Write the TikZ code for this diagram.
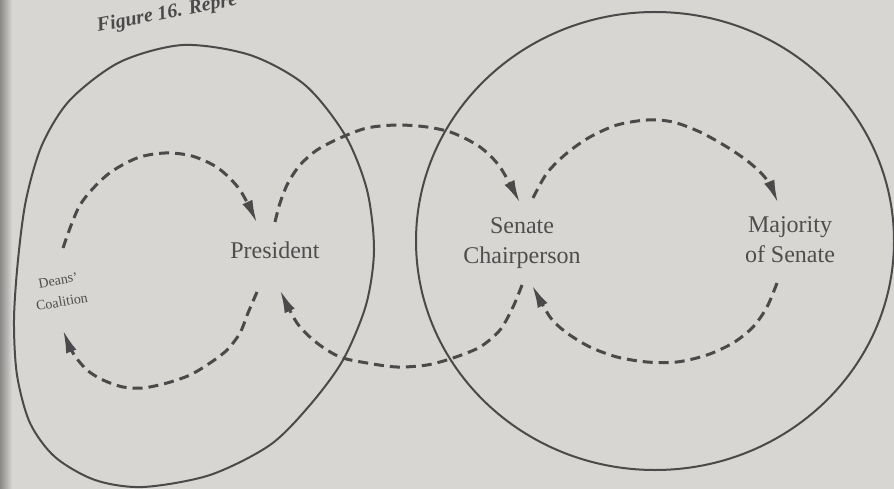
\documentclass[tikz,border=0pt]{standalone}
\usepackage{fontspec}
\setmainfont{Liberation Serif}
\usetikzlibrary{arrows.meta}
\definecolor{paper}{HTML}{D8D6D3}
\definecolor{ink}{HTML}{4A4A4A}
\definecolor{txt}{HTML}{4E4E4E}
\begin{document}
\begin{tikzpicture}[x=1pt,y=-1pt,
  outline/.style={draw=ink, line width=2pt},
  loopline/.style={draw=ink, line width=3pt, dash pattern=on 10pt off 6pt,
    -{Latex[length=23pt,width=11pt]}},
  lbl/.style={text=txt, font=\fontsize{24}{30}\selectfont, align=center, inner sep=0pt},
  smalllbl/.style={text=txt, font=\fontsize{14}{22}\selectfont, align=center, inner sep=0pt},
  caption/.style={text=ink, font=\bfseries\itshape\fontsize{20}{24}\selectfont, inner sep=0pt}]
\clip (0,0) rectangle (894,489);
\fill[paper] (0,0) rectangle (894,489);
\shade[left color=ink!55!paper, right color=paper] (0,0) rectangle (12,489);

% caption (cut at the top edge)
\node[caption, anchor=base west, rotate=11] (fig) at (98,32) {Figure 16. Repre};

% left boundary (blob)
\draw[outline] plot[smooth cycle, tension=0.5] coordinates {
  (183,45) (250,55) (305,85) (345,135) (367,190) (374,250) (366,305)
  (343,360) (310,405) (270,445) (210,475) (143,487) (95,480) (55,457)
  (30,423) (17,375) (14,320) (18,260) (26,200) (42,145) (70,100) (120,62)};

% right boundary (circle)
\draw[outline] (655,241) ellipse [x radius=239, y radius=229];

% labels
\node[lbl] (pres) at (275,250) {President};
\node[lbl] (chair) at (522,243) {Senate\\Chairperson};
\node[lbl] (maj) at (790,240) {Majority\\of Senate};
\node[smalllbl, rotate=10] (deans) at (60,291) {Deans'\\Coalition};

% Deans' coalition loop
\coordinate (d1) at (63,248);
\coordinate (p1) at (257,223);
\coordinate (p2) at (257,292);
\coordinate (d2) at (63,330);
\draw[loopline] plot[smooth] coordinates {(d1) (80,205) (107,175) (137,158)
  (165,153) (192,156) (218,168) (240,190) (p1)};
\draw[loopline] plot[smooth] coordinates {(p2) (248,313) (240,333) (227,350)
  (210,363) (190,375) (167,383) (143,388) (123,387) (103,380) (87,370) (73,353) (d2)};

% President - Senate Chairperson loop
\coordinate (p3) at (275,222);
\coordinate (c1) at (520,203);
\coordinate (c2) at (522,285);
\coordinate (p4) at (280,290);
\draw[loopline] plot[smooth] coordinates {(p3) (280,203) (288,183) (300,165)
  (317,150) (340,138) (367,128) (397,125) (427,127) (453,133) (480,147) (500,167) (c1)};
\draw[loopline] plot[smooth] coordinates {(c2) (513,307) (500,330) (480,347)
  (453,358) (427,365) (397,367) (367,363) (340,357) (317,343) (297,323) (p4)};

% Senate Chairperson - Majority loop
\coordinate (c3) at (533,198);
\coordinate (m1) at (778,203);
\coordinate (m2) at (777,283);
\coordinate (c4) at (532,285);
\draw[loopline] plot[smooth] coordinates {(c3) (547,173) (567,153) (590,137)
  (617,125) (647,120) (673,122) (700,132) (727,147) (750,163) (767,180) (m1)};
\draw[loopline] plot[smooth] coordinates {(m2) (767,307) (753,327) (733,343)
  (707,355) (677,362) (647,362) (617,357) (590,347) (567,333) (550,317) (c4)};
\end{tikzpicture}
\end{document}
